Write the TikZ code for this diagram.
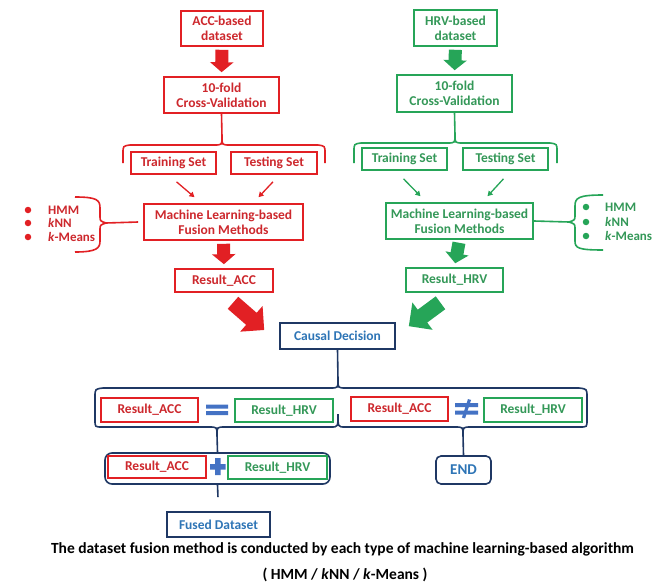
\documentclass[tikz,border=0pt]{standalone}
\usepackage{fontspec}
\setmainfont{Carlito}
\usetikzlibrary{arrows.meta,calc}
\definecolor{cred}{RGB}{226,32,36}
\definecolor{tred}{RGB}{205,40,45}
\definecolor{cgreen}{RGB}{38,165,88}
\definecolor{tgreen}{RGB}{52,152,88}
\definecolor{navy}{RGB}{31,56,100}
\definecolor{tblue}{RGB}{46,117,182}
\definecolor{sblue}{RGB}{68,114,196}
\begin{document}
\begin{tikzpicture}[x=1pt,y=-1pt,
  box/.style={draw, line width=1.6pt, inner sep=0pt, align=center, font=\bfseries\fontsize{13.5}{15}\selectfont},
  rbox/.style={box, draw=cred, text=tred},
  gbox/.style={box, draw=cgreen, text=tgreen},
  bbox/.style={box, draw=navy, text=tblue},
  sz/.style 2 args={minimum width=#1pt, minimum height=#2pt},
  blockr/.style={draw=cred, line width=13pt, -{Triangle[length=10pt,width=23pt]}, shorten <=3pt, shorten >=4pt},
  blockg/.style={draw=cgreen, line width=13pt, -{Triangle[length=10pt,width=23pt]}, shorten <=3pt, shorten >=4pt},
  diagr/.style={draw=cred, line width=16pt, -{Triangle[length=17pt,width=33pt]}},
  diagg/.style={draw=cgreen, line width=16pt, -{Triangle[length=17pt,width=33pt]}},
  thinr/.style={draw=cred, line width=1.3pt, -{Triangle[length=5pt,width=5.5pt]}},
  thing/.style={draw=cgreen, line width=1.3pt, -{Triangle[length=5pt,width=5.5pt]}},
  bracer/.style={draw=cred, line width=1.6pt},
  braceg/.style={draw=cgreen, line width=1.6pt},
  braceb/.style={draw=navy, line width=1.6pt},
  item/.style={anchor=west, inner sep=0pt, font=\bfseries\fontsize{13}{14}\selectfont},
  dotr/.style={fill=cred, circle, inner sep=0pt, minimum size=6.5pt},
  dotg/.style={fill=cgreen, circle, inner sep=0pt, minimum size=6.5pt},
  capt/.style={inner sep=0pt, font=\bfseries\fontsize{15.5}{18}\selectfont}
]
\useasboundingbox[fill=white] (0,0) rectangle (671,583);

% ---------- ACC branch ----------
\node[rbox, sz={82}{35}] (accd) at (222,28.5) {ACC-based\\dataset};
\node[rbox, sz={115}{36}] (fold1) at (221.5,95) {10-fold\\Cross-Validation};
\node[rbox, sz={85}{22}] (trn1) at (173.5,163) {Training Set};
\node[rbox, sz={86}{22}] (tst1) at (274,163) {Testing Set};
\node[rbox, sz={159}{36}] (ml1) at (223.5,222) {Machine Learning-based\\Fusion Methods};
\node[rbox, sz={98}{23}] (res1) at (224,280.5) {Result\_ACC};

\draw[blockr] (accd.south) -- (fold1.north);
\draw[blockr] (ml1.south) -- (res1.north);
\draw[bracer] (fold1.south) -- (222,137)
  (123,163) -- (123,153) .. controls (123,146) .. (130,145) -- (214,145)
  .. controls (222,145) .. (222,137) .. controls (222,145) .. (230,145)
  -- (318,145) .. controls (325,146) .. (325,153) -- (325,163);
\draw[thinr] ($(trn1.south)+(3,7)$) -- ($(ml1.north)+(-29,-6)$);
\draw[thinr] ($(tst1.south)+(-1,7)$) -- ($(ml1.north)+(35,-6)$);

\coordinate (tipl) at (106,223);
\draw[bracer] (tipl) -- ([xshift=-5pt]ml1.west)
  (75,197) .. controls (97,197) and (100,200) .. (100,208) -- (100,216)
  .. controls (100,221) .. (tipl) .. controls (100,225) .. (100,230)
  -- (100,241) .. controls (100,248) and (97,252) .. (75,252);
\node[dotr] (d1) at (28,210) {};
\node[dotr] (d2) at (28,223) {};
\node[dotr] (d3) at (28,237) {};
\node[item, text=tred] (i1) at (48,210) {HMM};
\node[item, text=tred] (i2) at (48,223) {\textit{k}NN};
\node[item, text=tred] (i3) at (48,237) {\textit{k}-Means};

% ---------- HRV branch ----------
\node[gbox, sz={83}{36}] (hrvd) at (455.5,28) {HRV-based\\dataset};
\node[gbox, sz={115}{37}] (fold2) at (454.5,93.5) {10-fold\\Cross-Validation};
\node[gbox, sz={85}{22}] (trn2) at (404.5,159) {Training Set};
\node[gbox, sz={85}{22}] (tst2) at (505.5,159) {Testing Set};
\node[gbox, sz={147}{36}] (ml2) at (459.5,221) {Machine Learning-based\\Fusion Methods};
\node[gbox, sz={97}{24}] (res2) at (454.5,280) {Result\_HRV};

\draw[blockg] (hrvd.south) -- (fold2.north);
\draw[blockg] (ml2.south) -- (res2.north);
\draw[braceg] (fold2.south) -- (455,135)
  (354,163) -- (354,151) .. controls (354,144) .. (361,143) -- (447,143)
  .. controls (455,143) .. (455,135) .. controls (455,143) .. (463,143)
  -- (550,143) .. controls (557,144) .. (557,151) -- (557,163);
\draw[thing] ($(trn2.south)+(-1,8)$) -- ($(ml2.north)+(-39,-6)$);
\draw[thing] ($(tst2.south)+(-2,8)$) -- ($(ml2.north)+(28,-6)$);

\coordinate (tipr) at (569,222);
\draw[braceg] (ml2.east) -- (tipr)
  (603,195) .. controls (578,195) and (575,198) .. (575,206) -- (575,215)
  .. controls (575,220) .. (tipr) .. controls (575,224) .. (575,229)
  -- (575,241) .. controls (575,248) and (578,250) .. (603,250);
\node[dotg] (e1) at (586,207) {};
\node[dotg] (e2) at (586,222) {};
\node[dotg] (e3) at (586,236) {};
\node[item, text=tgreen] (j1) at (605,207) {HMM};
\node[item, text=tgreen] (j2) at (605,222) {\textit{k}NN};
\node[item, text=tgreen] (j3) at (605,236) {\textit{k}-Means};

% ---------- Decision ----------
\node[bbox, sz={115}{26}] (causal) at (337.5,336) {Causal Decision};
\draw[diagr] ($(res1.south)+(9,10)$) -- ($(causal.west)+(-15,-6)$);
\draw[diagg] ($(res2.south)+(-14,10)$) -- ($(causal.north east)+(13,4)$);

\coordinate (toptip) at (338,380);
\draw[braceb] (causal.south) -- (toptip)
  (95,410) -- (95,397) .. controls (95,389) .. (103,388) -- (330,388)
  .. controls (338,388) .. (toptip) .. controls (338,388) .. (346,388)
  -- (579,388) .. controls (587,389) .. (587,397) -- (587,410);
\coordinate (bl) at (217,435);
\coordinate (br) at (463,435);
\draw[braceb] (95,410) -- (95,420) .. controls (95,427) .. (102,427) -- (209,427)
  .. controls (217,427) .. (bl) .. controls (217,427) .. (225,427)
  -- (331,427) .. controls (338,427) .. (338,414);
\draw[braceb] (338,414) .. controls (338,427) .. (345,427) -- (455,427)
  .. controls (463,427) .. (br) .. controls (463,427) .. (471,427)
  -- (580,427) .. controls (587,427) .. (587,420) -- (587,410);

\node[rbox, sz={97}{24}] (ra1) at (149.5,410) {Result\_ACC};
\node[gbox, sz={98}{23}] (rh1) at (284,410.5) {Result\_HRV};
\node[rbox, sz={97}{24}] (ra2) at (399.5,409) {Result\_ACC};
\node[gbox, sz={98}{24}] (rh2) at (533,410) {Result\_HRV};
% equals
\fill[sblue] (206,404.5) rectangle (228,408.5) (206,411) rectangle (228,415);
% not equal
\fill[sblue] (455,403) rectangle (478,407) (455,410.5) rectangle (478,414.5);
\draw[sblue, line width=3.2pt] (469.5,399.5) -- (463.5,418);

\node[draw=navy, line width=1.6pt, rounded corners=7pt, minimum width=225pt, minimum height=31pt, inner sep=0pt] (grp) at (217.5,468.5) {};
\draw[braceb] (bl) -- (grp.north);
\node[rbox, sz={98}{22}] (ra3) at (157,467) {Result\_ACC};
\node[gbox, sz={99}{23}] (rh3) at (277.5,467.5) {Result\_HRV};
% plus
\fill[sblue] (215,458) rectangle (220.5,475) (210,464) rectangle (225.5,469.5);

\node[bbox, rounded corners=5pt, sz={55}{28}, font=\bfseries\fontsize{15}{17}\selectfont] (endn) at (463.5,470) {END};
\draw[braceb] (br) -- (endn.north);

\node[bbox, sz={103}{25}] (fused) at (218.5,524.5) {Fused Dataset};
\draw[braceb, shorten >=14pt] (grp.south) -- (fused.north);

\node[capt] (cap1) at (342.5,549.5) {The dataset fusion method is conducted by each type of machine learning-based algorithm};
\node[capt] (cap2) at (345,574.5) {( HMM / \textit{k}NN / \textit{k}-Means )};
\end{tikzpicture}
\end{document}
